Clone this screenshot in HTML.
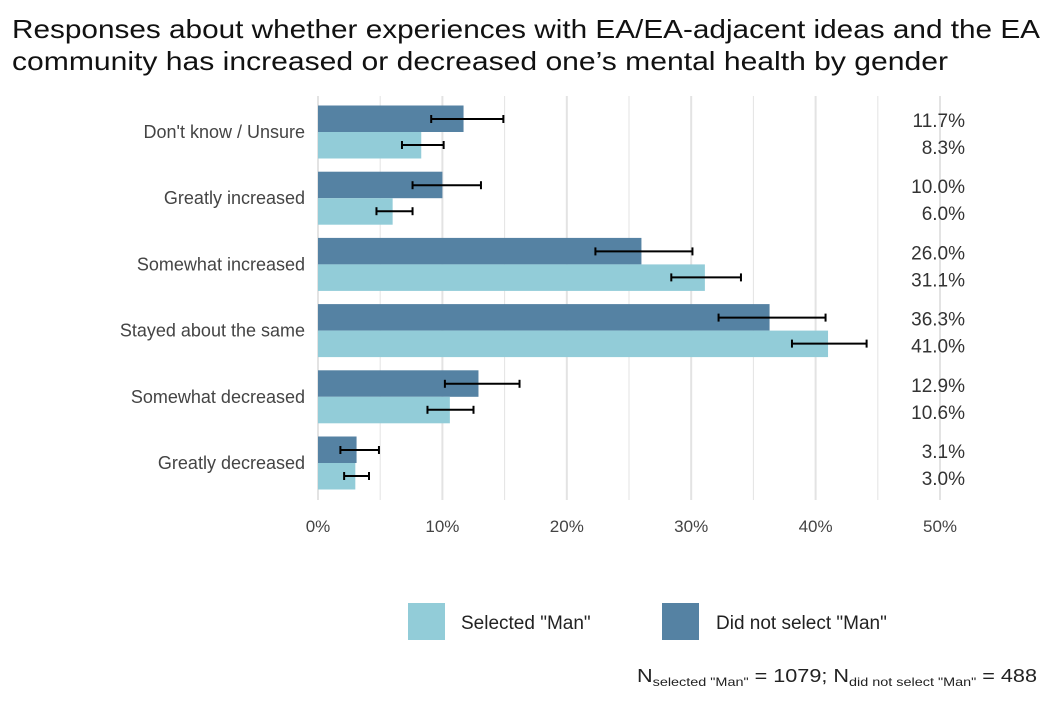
<!DOCTYPE html>
<html><head><meta charset="utf-8"><style>
body{margin:0;background:#fff;font-family:"Liberation Sans",sans-serif}
svg text{font-family:"Liberation Sans",sans-serif}
</style></head><body>
<svg id="c" width="1051" height="700" viewBox="0 0 1051 700">
<text x="12" y="38" font-size="26" fill="#111" textLength="1028" lengthAdjust="spacingAndGlyphs">Responses about whether experiences with EA/EA-adjacent ideas and the EA</text>
<text x="12" y="70" font-size="26" fill="#111" textLength="936" lengthAdjust="spacingAndGlyphs">community has increased or decreased one’s mental health by gender</text>
<g id="grid"></g><g id="bars"></g><g id="labels"></g>
<g>
<rect x="408" y="603" width="37" height="37" fill="#92ccd8"/>
<text x="461" y="629" font-size="19" fill="#222">Selected "Man"</text>
<rect x="662" y="603" width="37" height="37" fill="#5582a3"/>
<text x="716" y="629" font-size="19" fill="#222">Did not select "Man"</text>
</g>
<text x="637" y="682" font-size="18" fill="#222" textLength="400" lengthAdjust="spacingAndGlyphs">N<tspan font-size="12" dy="4">selected "Man"</tspan><tspan dy="-4"> = 1079; N</tspan><tspan font-size="12" dy="4">did not select "Man"</tspan><tspan dy="-4"> = 488</tspan></text>
</svg>
<script>
const categories=["Don't know / Unsure","Greatly increased","Somewhat increased","Stayed about the same","Somewhat decreased","Greatly decreased"];
const notManValues=[11.7,10.0,26.0,36.3,12.9,3.1];
const notManLow=[9.1,7.6,22.3,32.2,10.2,1.8];
const notManHigh=[14.9,13.1,30.1,40.8,16.2,4.9];
const manValues=[8.3,6.0,31.1,41.0,10.6,3.0];
const manLow=[6.75,4.7,28.4,38.1,8.8,2.1];
const manHigh=[10.1,7.6,34.0,44.1,12.5,4.1];
const ticks=[0,10,20,30,40,50];
const NS="http://www.w3.org/2000/svg";
const x=v=>318+v*12.44;
const rowY=i=>132+i*66.2;
function mk(p,t,a){const e=document.createElementNS(NS,t);for(const k in a)e.setAttribute(k,a[k]);p.appendChild(e);return e;}
const grid=document.getElementById('grid'),bars=document.getElementById('bars'),labels=document.getElementById('labels');
for(let v=0;v<=50;v+=5){const l=mk(grid,'line',{x1:x(v),x2:x(v),y1:96,y2:500,stroke:'#e3e3e3','stroke-width':v%10?1:2});

}
ticks.forEach(t=>{const e=mk(grid,'text',{x:x(t),y:532,'font-size':17,fill:'#444','text-anchor':'middle'});e.textContent=t+'%';

});
function eb(lo,hi,y){const g=mk(bars,'g',{stroke:'#000','stroke-width':2});


mk(g,'line',{x1:x(lo),x2:x(hi),y1:y,y2:y});mk(g,'line',{x1:x(lo),x2:x(lo),y1:y-4,y2:y+4});mk(g,'line',{x1:x(hi),x2:x(hi),y1:y-4,y2:y+4});}
categories.forEach((c,i)=>{const y=rowY(i);
const b1=mk(bars,'rect',{x:x(0),y:y-26.5,width:x(notManValues[i])-x(0),height:26.5,fill:'#5582a3'});


const b2=mk(bars,'rect',{x:x(0),y:y,width:x(manValues[i])-x(0),height:26.5,fill:'#92ccd8'});


eb(notManLow[i],notManHigh[i],y-13);eb(manLow[i],manHigh[i],y+13);
const t=mk(labels,'text',{x:305,y:y+6,'font-size':18,fill:'#444','text-anchor':'end'});t.textContent=c;


const v1=mk(labels,'text',{x:965,y:y-5,'font-size':19,fill:'#333','text-anchor':'end'});v1.textContent=notManValues[i].toFixed(1)+'%';


const v2=mk(labels,'text',{x:965,y:y+22,'font-size':19,fill:'#333','text-anchor':'end'});v2.textContent=manValues[i].toFixed(1)+'%';

});
</script>
</body></html>
